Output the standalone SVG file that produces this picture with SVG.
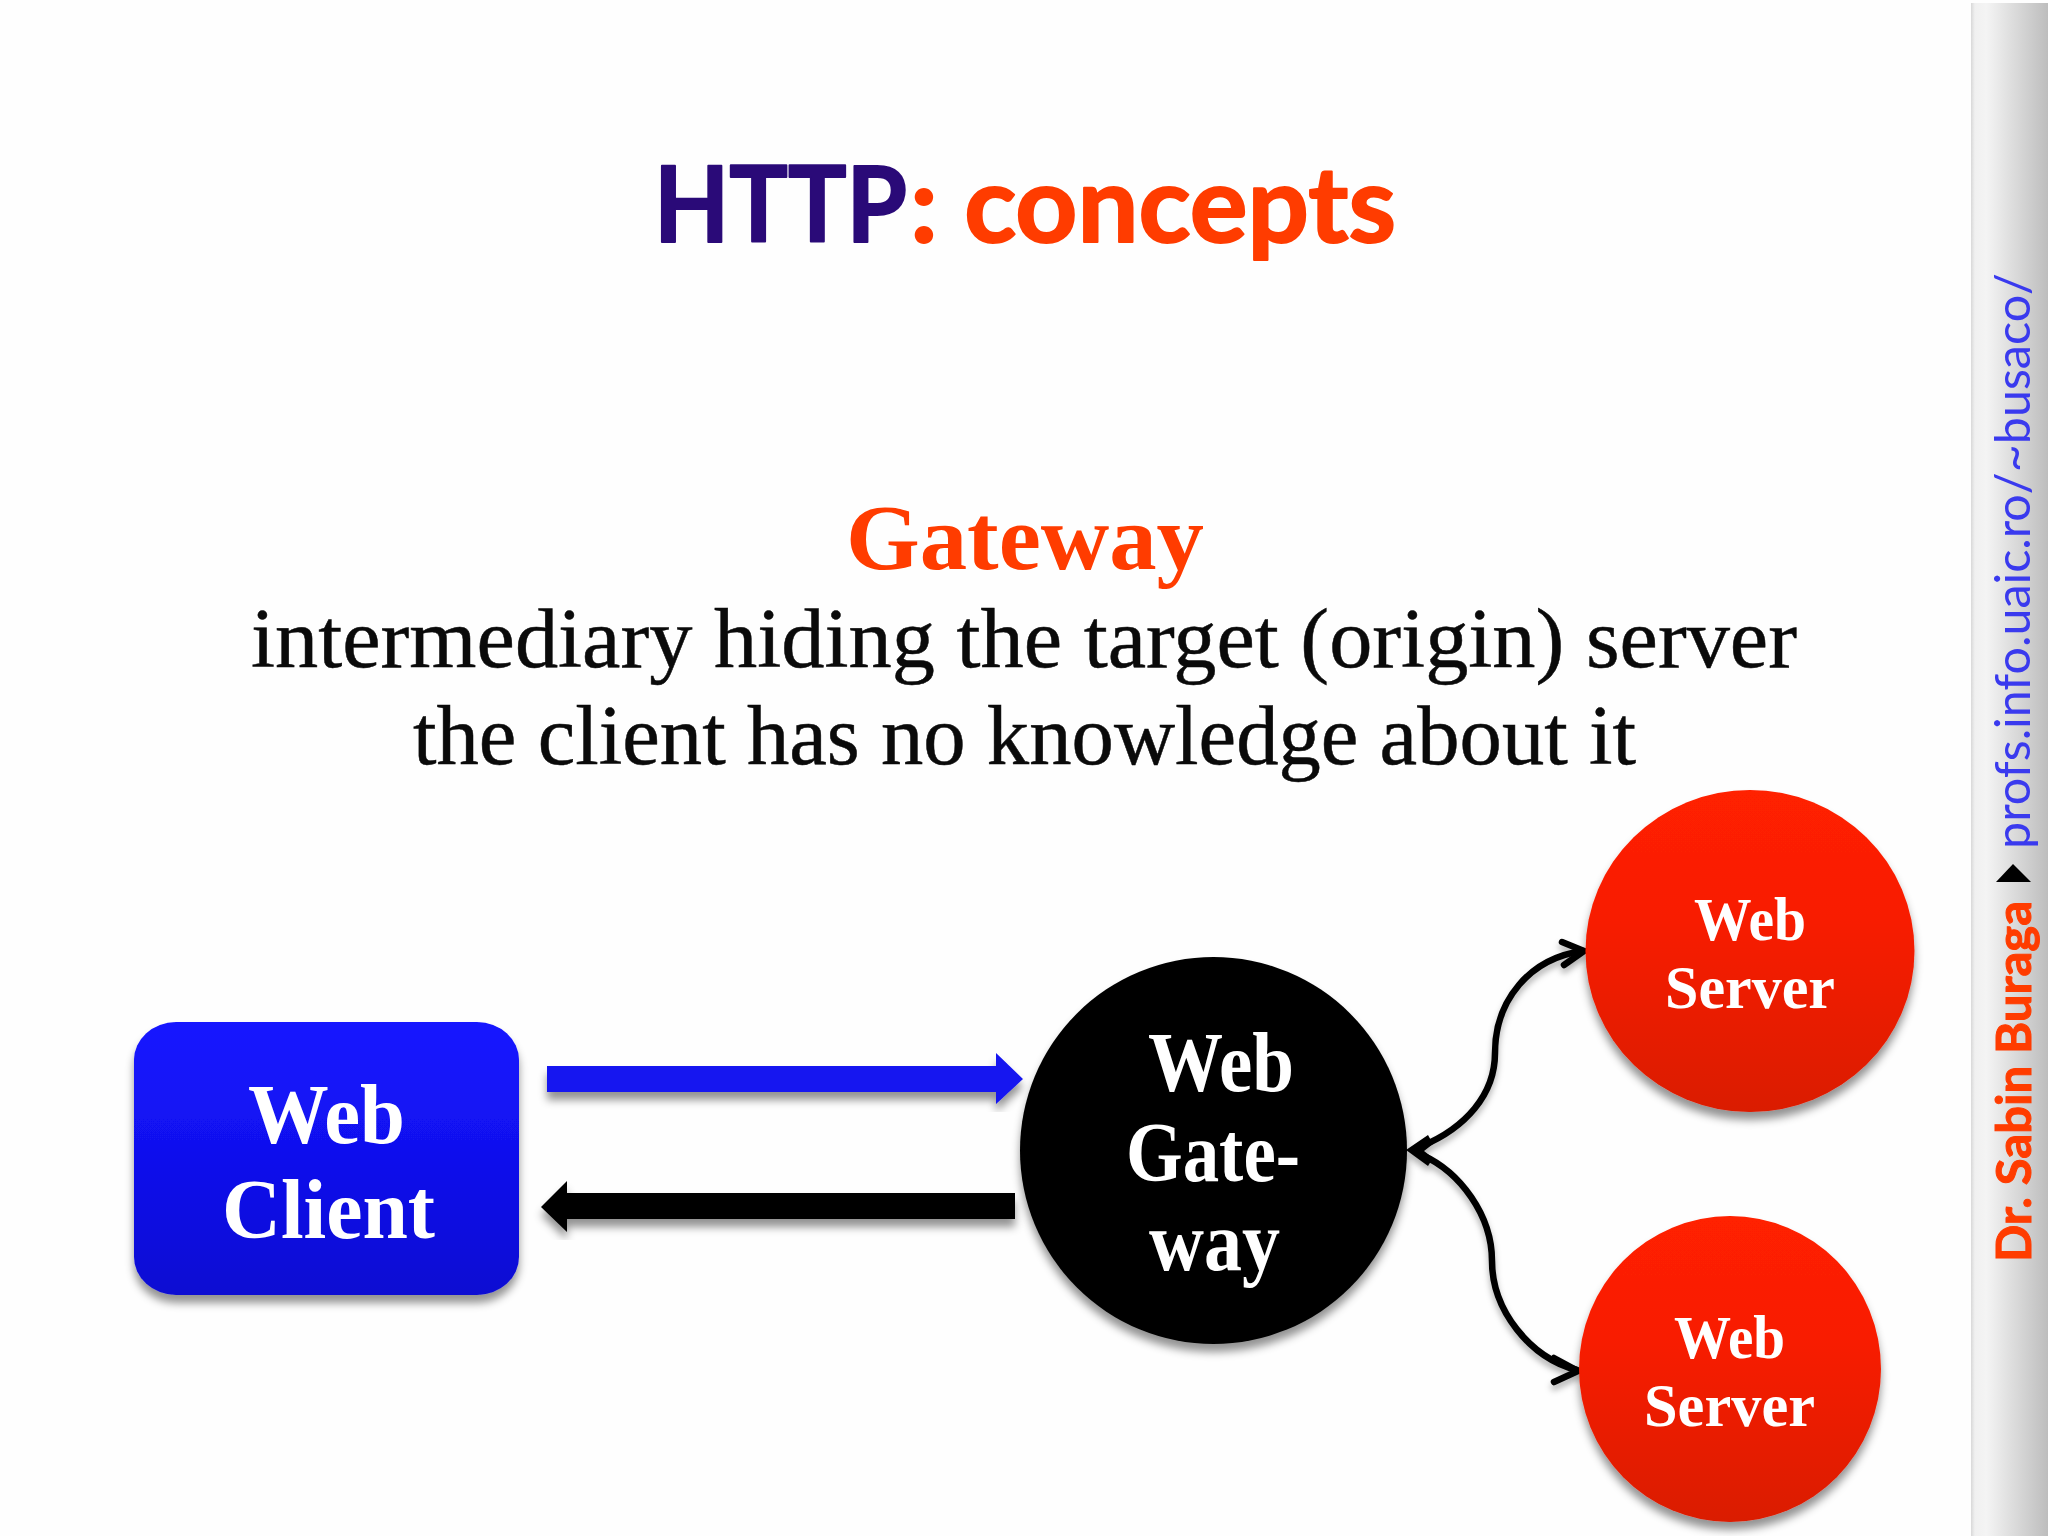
<svg xmlns="http://www.w3.org/2000/svg" width="2048" height="1536" viewBox="0 0 2048 1536">
<style>
.cal{font-family:"Lato","Open Sans",sans-serif}
.ser{font-family:"Liberation Serif","DejaVu Serif",serif}
.b{font-weight:700}
.or{fill:#ff3c00}
.pu{fill:#2a0a78}
.heavy{stroke-width:2;stroke-linejoin:round}
.body{font-size:84px;fill:#0a0a0a;stroke:#0a0a0a;stroke-width:.5}
.w{fill:#fff;font-weight:700}
.big{font-size:84px}
.mid{font-size:62px}
.shadow{filter:url(#sh)}
.thin{filter:url(#sh2)}
.curve{fill:none;stroke:#000;stroke-width:6.5;stroke-linecap:round}
.hd{fill:none;stroke:#000;stroke-width:6.5;stroke-linecap:round;stroke-linejoin:miter}
</style>
<defs>
<filter id="sh" x="-10%" y="-10%" width="120%" height="125%"><feDropShadow dx="0" dy="8" stdDeviation="4.5" flood-color="#000" flood-opacity="0.42"/></filter>
<filter id="sh2" x="-15%" y="-15%" width="130%" height="130%"><feDropShadow dx="0" dy="5" stdDeviation="3" flood-color="#000" flood-opacity="0.3"/></filter>
<linearGradient id="gb" x1="0" y1="0" x2="0" y2="1"><stop offset="0" stop-color="#1414ff"/><stop offset="0.35" stop-color="#1212f4"/><stop offset="1" stop-color="#0b0bd2"/></linearGradient>
<linearGradient id="gr" x1="0" y1="0" x2="0" y2="1"><stop offset="0" stop-color="#ff2000"/><stop offset="0.4" stop-color="#f81e00"/><stop offset="1" stop-color="#da1a00"/></linearGradient>
<linearGradient id="gs" x1="0" y1="0" x2="1" y2="0"><stop offset="0" stop-color="#d8d8d8"/><stop offset="0.05" stop-color="#f0f0f0"/><stop offset="0.2" stop-color="#f4f4f4"/><stop offset="1" stop-color="#bdbdbd"/></linearGradient>
</defs>
<rect width="2048" height="1536" fill="#fefefe"/>
<rect id="sidebar" x="1971" y="3" width="77" height="1533" fill="url(#gs)"/>
<g id="title">
<text class="cal b pu heavy" stroke="#2a0a78" x="654" y="242" font-size="106" textLength="253" lengthAdjust="spacingAndGlyphs">HTTP</text>
<text class="cal b or heavy" stroke="#ff3c00" x="910" y="242" font-size="106" textLength="486" lengthAdjust="spacingAndGlyphs">: concepts</text>
</g>
<g id="body">
<text class="ser b or" x="846" y="569" font-size="94" textLength="358" lengthAdjust="spacingAndGlyphs">Gateway</text>
<text class="ser body" x="251" y="667" textLength="1546" lengthAdjust="spacingAndGlyphs">intermediary hiding the target (origin) server</text>
<text class="ser body" x="413" y="764" textLength="1223" lengthAdjust="spacingAndGlyphs">the client has no knowledge about it</text>
</g>
<g id="connectors">
<path class="shadow" d="M547 1066H996V1053L1023 1079L996 1104V1092H547Z" fill="#1414f0"/>
<path class="shadow" d="M541 1207L567 1181V1193H1015V1219H567V1232Z" fill="#000"/>
<g class="thin">
<path class="curve" d="M1422 1146C1465 1128 1495 1095 1495 1053C1495 1000 1530 958 1583 951"/>
<path class="hd" d="M1562 942L1584 951L1564 965"/>
<path class="curve" d="M1422 1155C1460 1172 1492 1215 1492 1261C1492 1310 1530 1358 1577 1370"/>
<path class="hd" d="M1554 1358L1578 1371L1554 1382"/>
<path d="M1406 1150L1428 1135L1433 1144L1424 1151L1433 1158L1428 1166Z" fill="#000"/>
</g>
</g>
<g id="client">
<rect class="shadow" x="134" y="1022" width="385" height="273" rx="42" ry="38" fill="url(#gb)"/>
<text class="ser w big" x="248" y="1143" textLength="157" lengthAdjust="spacingAndGlyphs">Web</text>
<text class="ser w big" x="222" y="1238" textLength="213" lengthAdjust="spacingAndGlyphs">Client</text>
</g>
<g id="gateway">
<circle class="shadow" cx="1213.5" cy="1150.5" r="193.5" fill="#000"/>
<text class="ser w big" x="1148" y="1091" textLength="146" lengthAdjust="spacingAndGlyphs">Web</text>
<text class="ser w big" x="1126" y="1181" textLength="174" lengthAdjust="spacingAndGlyphs">Gate-</text>
<text class="ser w big" x="1149" y="1270" textLength="131" lengthAdjust="spacingAndGlyphs">way</text>
</g>
<g id="server1">
<ellipse class="shadow" cx="1750" cy="951" rx="164.5" ry="161" fill="url(#gr)"/>
<text class="ser w mid" x="1694" y="940" textLength="112" lengthAdjust="spacingAndGlyphs">Web</text>
<text class="ser w mid" x="1665" y="1008" textLength="170" lengthAdjust="spacingAndGlyphs">Server</text>
</g>
<g id="server2">
<ellipse class="shadow" cx="1730" cy="1369" rx="151" ry="153" fill="url(#gr)"/>
<text class="ser w mid" x="1674" y="1358" textLength="111" lengthAdjust="spacingAndGlyphs">Web</text>
<text class="ser w mid" x="1644" y="1426" textLength="171" lengthAdjust="spacingAndGlyphs">Server</text>
</g>
<g id="footer">
<text class="cal b or" stroke="#ff3c00" stroke-width="1" transform="translate(2031 1262) rotate(-90)" font-size="48" textLength="361" lengthAdjust="spacingAndGlyphs">Dr. Sabin Buraga</text>
<path d="M1996 882L2013 864L2031 882Z" fill="#000"/>
<text class="cal" transform="translate(2030 849) rotate(-90)" font-size="48" fill="#3a3aee" textLength="576" lengthAdjust="spacingAndGlyphs">profs.info.uaic.ro/~busaco/</text>
</g>
</svg>
